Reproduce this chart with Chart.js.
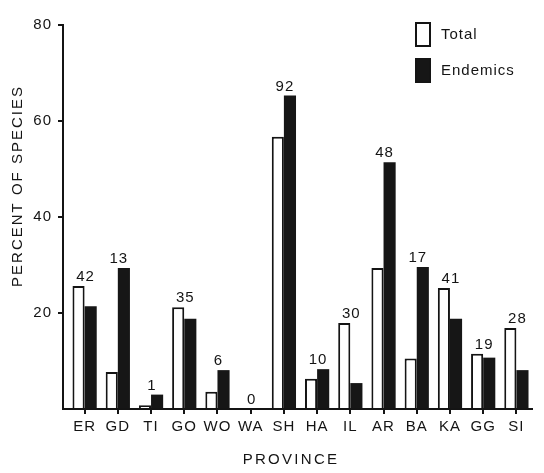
<!DOCTYPE html>
<html>
<head>
<meta charset="utf-8">
<script src="https://cdn.jsdelivr.net/npm/chart.js@4"></script>
<style>
  html, body { margin: 0; padding: 0; background: #fff; }
  #wrap { width: 544px; height: 473px; }
</style>
</head>
<body>
<div id="wrap"><canvas id="chart" width="544" height="473"></canvas></div>
<script>
// province codes along the x axis
const provinces = ["ER", "GD", "TI", "GO", "WO", "WA", "SH", "HA", "IL", "AR", "BA", "KA", "GG", "SI"];
// percent of species
const totalPct = [25.6, 7.7, 0.8, 21.2, 3.6, 0, 56.7, 6.3, 17.9, 29.4, 10.5, 25.2, 11.5, 16.9];
const endemicPct = [21.4, 29.4, 3.0, 18.8, 8.1, 0, 65.3, 8.3, 5.4, 51.4, 29.6, 18.8, 10.7, 8.1];
// numbers printed above each pair
const speciesCounts = [42, 13, 1, 35, 6, 0, 92, 10, 30, 48, 17, 41, 19, 28];
const yTicks = [20, 40, 60, 80];

const ink = "#141414";
const FONT = "'Liberation Sans', Arial, sans-serif";

// axis lines, tick marks, titles, counts and legend
const paperPlugin = {
  id: "paper",
  beforeDraw(chart) {
    chart.ctx.letterSpacing = "1px";
  },
  afterDraw(chart) {
    const ctx = chart.ctx;
    const area = chart.chartArea;
    const x = chart.scales.x;
    const y = chart.scales.y;
    const axisX = area.left - 5;
    ctx.save();
    ctx.strokeStyle = ink;
    ctx.fillStyle = ink;
    ctx.lineWidth = 2;

    // y axis line and ticks
    ctx.beginPath();
    ctx.moveTo(axisX, area.bottom + 1);
    ctx.lineTo(axisX, y.getPixelForValue(80) - 1);
    yTicks.forEach((t) => {
      const py = Math.round(y.getPixelForValue(t));
      ctx.moveTo(axisX - 5, py);
      ctx.lineTo(axisX, py);
    });
    // baseline
    ctx.moveTo(axisX - 1, area.bottom);
    ctx.lineTo(area.right, area.bottom);
    ctx.stroke();

    // counts above the bars
    ctx.font = "15px " + FONT;
    ctx.letterSpacing = "1px";
    ctx.textAlign = "center";
    ctx.textBaseline = "alphabetic";
    speciesCounts.forEach((n, i) => {
      const top = Math.max(totalPct[i], endemicPct[i]);
      ctx.fillText(String(n), x.getPixelForValue(i) + 1, y.getPixelForValue(top) - 5);
    });

    // axis titles
    ctx.letterSpacing = "2.3px";
    ctx.textBaseline = "middle";
    ctx.fillText("PROVINCE", 291, 460);
    ctx.save();
    ctx.translate(18, 186);
    ctx.rotate(-Math.PI / 2);
    ctx.letterSpacing = "2px";
    ctx.fillText("PERCENT OF SPECIES", 0, 0);
    ctx.restore();

    // legend
    ctx.letterSpacing = "1px";
    ctx.textAlign = "left";
    chart.data.datasets.forEach((ds, i) => {
      const top = 23 + i * 36;
      ctx.fillStyle = ds.backgroundColor;
      ctx.fillRect(416, top, 14, 23);
      ctx.strokeStyle = ink;
      ctx.lineWidth = 2;
      ctx.strokeRect(416, top, 14, 23);
      ctx.fillStyle = ink;
      ctx.fillText(ds.label, 441, top + 12);
    });
    ctx.restore();
  },
};

new Chart(document.getElementById("chart"), {
  type: "bar",
  data: {
    labels: provinces,
    datasets: [
      {
        label: "Total",
        data: totalPct,
        backgroundColor: "#ffffff",
        borderColor: ink,
        borderWidth: 2,
        borderSkipped: "bottom",
      },
      {
        label: "Endemics",
        data: endemicPct,
        backgroundColor: "#161616",
        borderColor: "#161616",
        borderWidth: 0,
      },
    ],
  },
  options: {
    responsive: false,
    animation: false,
    devicePixelRatio: 1,
    categoryPercentage: 0.73,
    barPercentage: 1,
    layout: { padding: { top: 12, right: 11, left: 0, bottom: 0 } },
    plugins: {
      legend: { display: false },
      tooltip: { enabled: false },
    },
    scales: {
      x: {
        grid: {
          offset: false,
          drawOnChartArea: false,
          color: ink,
          lineWidth: 2,
          tickLength: 5,
        },
        border: { display: false },
        ticks: {
          color: ink,
          padding: 4,
          font: { family: FONT, size: 15 },
          maxRotation: 0,
        },
        afterFit(scale) {
          scale.height = 64;
        },
      },
      y: {
        min: 0,
        max: 80,
        grid: { display: false, drawTicks: false },
        border: { display: false },
        ticks: {
          stepSize: 20,
          color: ink,
          padding: 16,
          font: { family: FONT, size: 15 },
          callback: (v) => (v === 0 ? "" : v),
        },
        afterFit(scale) {
          scale.width = 68;
        },
      },
    },
  },
  plugins: [paperPlugin],
});
</script>
</body>
</html>
